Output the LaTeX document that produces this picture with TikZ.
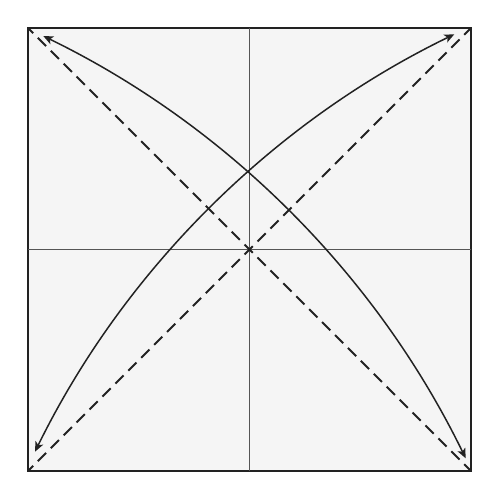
\documentclass[tikz,border=0pt]{standalone}
\usetikzlibrary{arrows.meta}
\definecolor{ink}{HTML}{222222}
\definecolor{axisgray}{HTML}{555555}
\definecolor{panel}{HTML}{F5F5F5}
\tikzset{
  frame/.style={draw=ink, line width=1.1pt, fill=panel},
  axisline/.style={draw=axisgray, line width=0.5pt},
  diagline/.style={draw=ink, line width=1.15pt, dash pattern=on 6.6pt off 3.8pt, dash phase=2.47pt},
  arcline/.style={draw=ink, line width=0.85pt, {Stealth[length=5.6pt,width=4.8pt,inset=1.4pt]}-{Stealth[length=5.6pt,width=4.8pt,inset=1.4pt]}},
}
\begin{document}
\begin{tikzpicture}[x=0.02cm,y=0.02cm]
\useasboundingbox (0,0) rectangle (500,500);
\coordinate (tl) at (28,472);
\coordinate (tr) at (471,472);
\coordinate (bl) at (28,29);
\coordinate (br) at (471,29);
\coordinate (mt) at (249.5,472);
\coordinate (mb) at (249.5,29);
\coordinate (ml) at (28,250.5);
\coordinate (mr) at (471,250.5);
\coordinate (a1s) at (43.3,464);
\coordinate (a1e) at (465.7,41.7);
\coordinate (a2s) at (35,48.3);
\coordinate (a2e) at (454.3,465.7);
\path[frame] (bl) rectangle (tr);
\draw[axisline] (mt) -- (mb);
\draw[axisline] (ml) -- (mr);
\draw[diagline] (tl) -- (br);
\draw[diagline] (bl) -- (tr);
\draw[arcline] (a1s) to[bend left=19, looseness=0.875] (a1e);
\draw[arcline] (a2s) to[bend left=19, looseness=0.875] (a2e);
\end{tikzpicture}
\end{document}
